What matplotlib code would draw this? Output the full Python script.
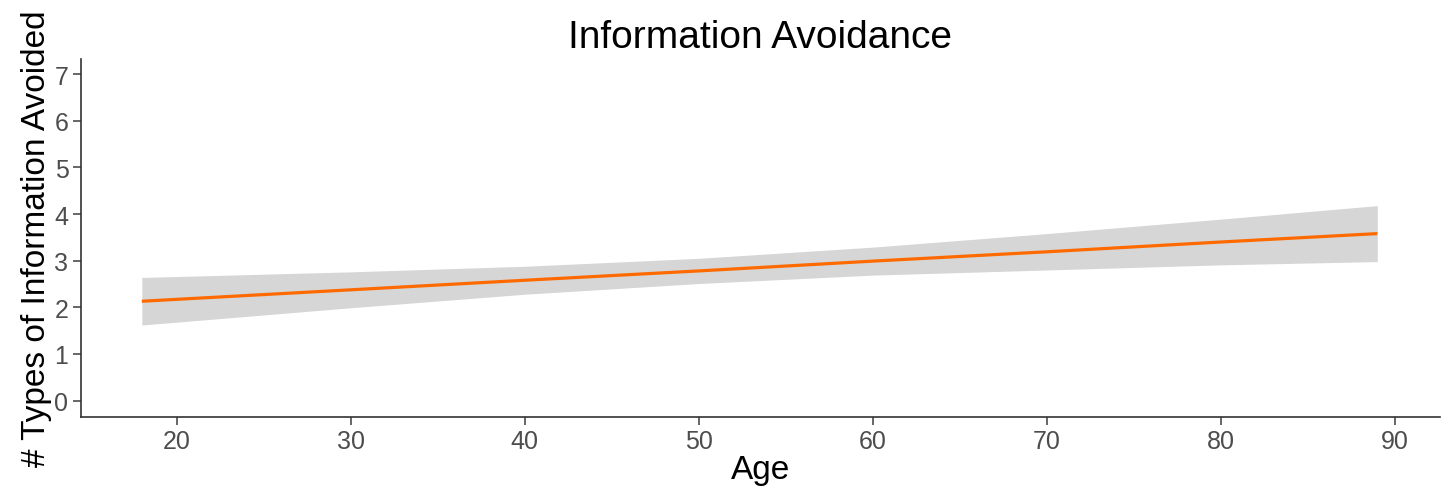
import matplotlib
matplotlib.use("Agg")
import matplotlib.pyplot as plt

# Data
age = [18, 30, 40, 50, 60, 70, 80, 89]
fit = [2.13, 2.375, 2.58, 2.78, 2.99, 3.19, 3.40, 3.58]
upper = [2.64, 2.76, 2.88, 3.05, 3.29, 3.58, 3.89, 4.18]
lower = [1.62, 1.99, 2.28, 2.51, 2.69, 2.80, 2.91, 2.98]
xticks = [20, 30, 40, 50, 60, 70, 80, 90]
yticks = [0, 1, 2, 3, 4, 5, 6, 7]

plt.rcParams['font.family'] = ['Liberation Sans', 'DejaVu Sans']

fig = plt.figure(figsize=(14.45, 4.89), dpi=100)
ax = fig.add_axes([0.056, 0.146, 0.9405, 0.731])

ax.fill_between(age, lower, upper, color='#D6D6D6', linewidth=0)
ax.plot(age, fit, color='#FF6A00', linewidth=2.3, solid_capstyle='butt')

ax.set_xlim(14.5, 92.6)
ax.set_ylim(-0.343, 7.32)
ax.set_xticks(xticks)
ax.set_yticks(yticks)

for s in ['top', 'right']:
    ax.spines[s].set_visible(False)
for s in ['left', 'bottom']:
    ax.spines[s].set_color('#333333')
    ax.spines[s].set_linewidth(1.2)

ax.tick_params(axis='both', colors='#4D4D4D', labelsize=18, length=6, width=1.2, pad=3)
ax.tick_params(axis='both', labelcolor='#4D4D4D')

ax.set_title('Information Avoidance', fontsize=28, color='black', pad=9)
ax.set_xlabel('Age', fontsize=24, color='black', labelpad=1)
ax.set_ylabel('# Types of Information Avoided', fontsize=24, color='black', labelpad=2)

fig.savefig('out.png', dpi=100)
